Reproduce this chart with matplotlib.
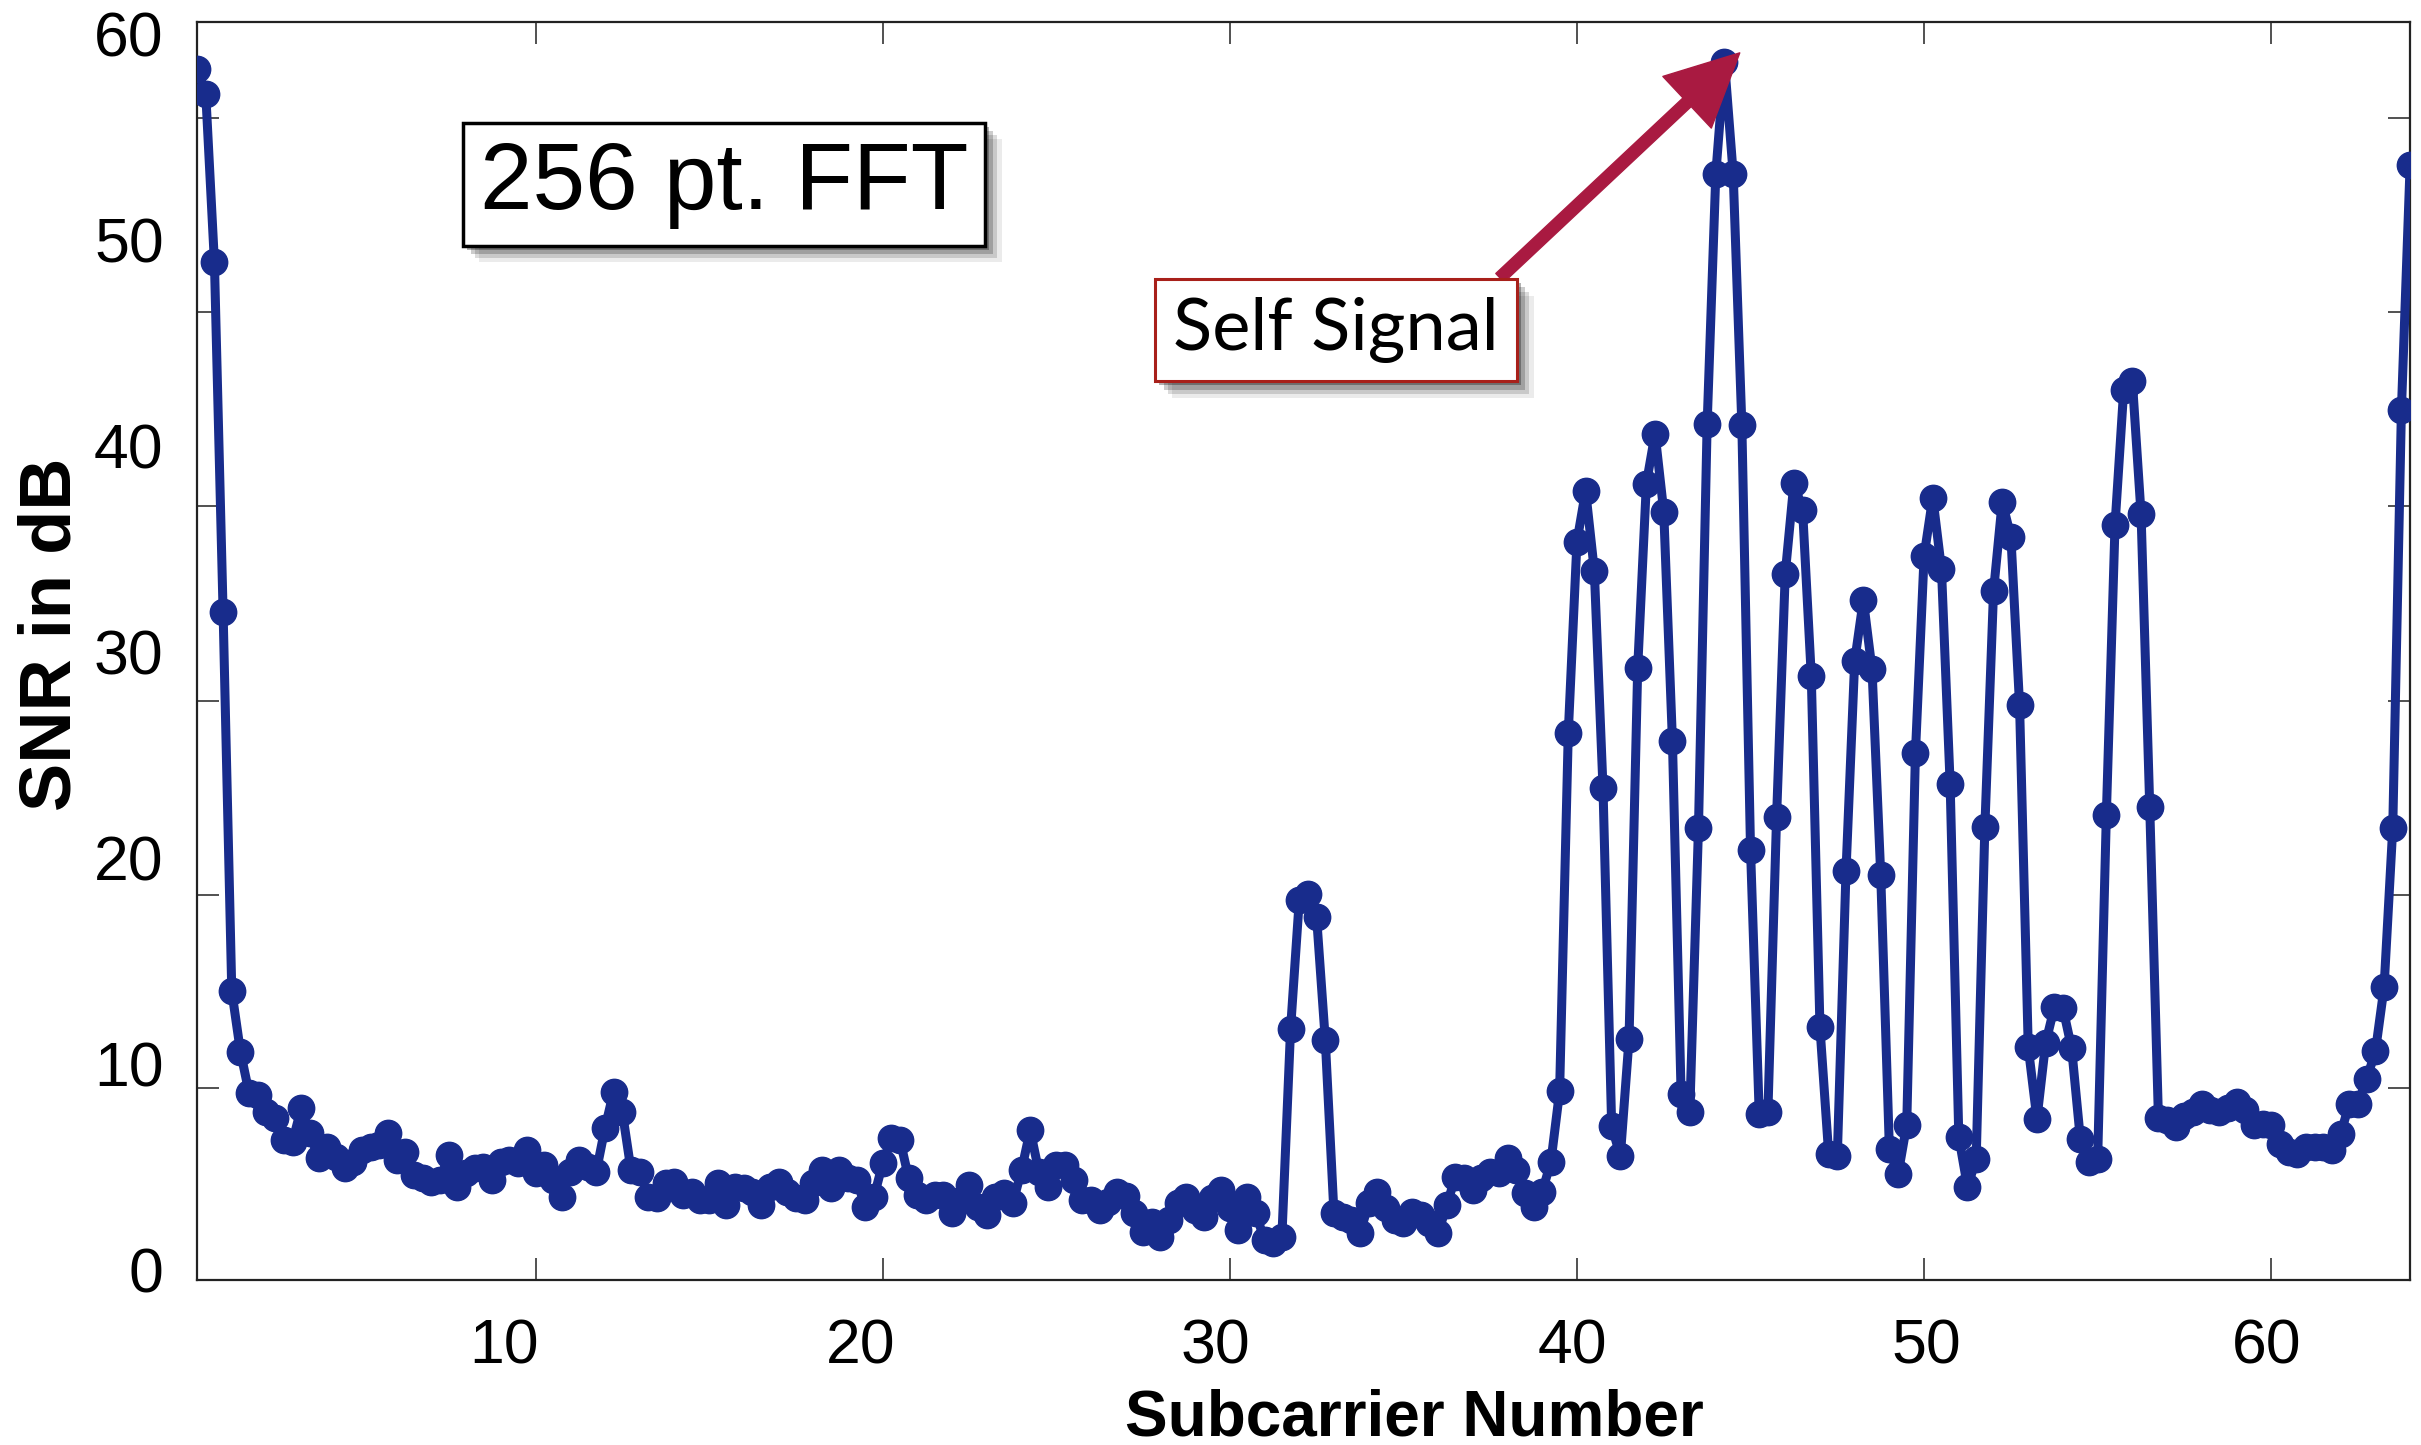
import numpy as np
import matplotlib
matplotlib.use("Agg")
import matplotlib.pyplot as plt
import matplotlib.patheffects as pe

# 256 subcarriers, plotted in steps of a quarter
n_points = 256
subcarrier = np.arange(1, n_points + 1) / 4.0

# SNR (dB), one value per subcarrier
snr_db = [
    58.3, 57.1, 48.9, 31.9, 13.5,
    10.56, 8.54, 8.45, 7.64, 7.32, 6.27, 6.19, 7.81, 6.59, 5.38,
    5.94, 5.46, 4.89, 5.21, 5.78, 5.94, 6.03, 6.59, 5.30, 5.70,
    4.57, 4.41, 4.24, 4.32, 5.54, 4.00, 4.65, 4.89, 4.97, 4.32,
    5.21, 5.30, 5.13, 5.78, 4.65, 5.05, 4.32, 3.51, 4.73, 5.30,
    4.97, 4.73, 6.84, 8.62, 7.64, 4.81, 4.73, 3.51, 3.43, 4.16,
    4.24, 3.60, 3.76, 3.35, 3.35, 4.16, 3.11, 4.00, 3.92, 3.76,
    3.11, 4.00, 4.24, 3.76, 3.43, 3.35, 4.16, 4.81, 3.92, 4.81,
    4.41, 4.32, 3.03, 3.51, 5.13, 6.35, 6.27, 4.41, 3.60, 3.35,
    3.60, 3.60, 2.70, 3.35, 4.08, 3.03, 2.62, 3.51, 3.68, 3.19,
    4.81, 6.75, 4.73, 4.00, 5.05, 5.05, 4.32, 3.35, 3.35, 2.87,
    3.27, 3.76, 3.56, 2.70, 1.81,
    2.30, 1.57, 2.38, 3.19, 3.51, 2.87, 2.54, 3.43, 3.84, 2.95,
    1.90, 3.51, 2.70, 1.41, 1.25, 1.57,
    11.66, 17.91, 18.23, 17.10, 11.13,
    2.70, 2.54, 2.38, 1.73, 3.19, 3.76, 2.95, 2.38, 2.22, 2.79,
    2.62, 2.22, 1.73, 3.11, 4.49, 4.41, 3.84, 4.41, 4.73, 4.65,
    5.38, 4.81, 3.68, 3.03, 3.76, 5.21,
    8.63, 26.06, 35.34, 37.80, 33.93, 23.36, 6.94, 5.49, 11.17, 29.21,
    38.16, 40.58, 36.79, 25.66, 8.51, 7.62, 21.42, 41.03, 53.21, 58.65,
    53.21, 40.99, 20.37, 7.54, 7.62, 21.94, 33.77, 38.20, 36.87, 28.80,
    11.74, 5.61, 5.49, 19.32, 29.53, 32.51, 29.13, 19.16, 5.81, 4.60,
    7.02, 25.05, 34.65, 37.48, 34.01, 23.56, 6.41, 4.00, 5.33, 21.46,
    32.92, 37.27, 35.58, 27.39, 10.77, 7.30, 10.97, 12.71, 12.67, 10.73,
    6.33, 5.20, 5.37, 22.07, 36.15, 42.72, 43.12, 36.67, 22.43, 7.34,
    7.22, 6.90, 7.42, 7.62, 8.03, 7.71, 7.62, 7.83, 8.11, 7.71,
    6.98, 7.06, 6.98, 6.09, 5.69, 5.61, 5.93, 5.93, 5.93, 5.77,
    6.57, 8.03, 8.03, 9.24, 10.57, 13.68, 21.42, 41.75, 53.61,
]

x_labels = ["10", "20", "30", "40", "50", "60"]
y_labels = ["0", "10", "20", "30", "40", "50", "60"]
# in the original the tick labels do not sit exactly on the tick marks,
# so labels and marks are placed separately
x_label_pos = [9.08, 19.36, 29.58, 39.86, 50.07, 59.86]
x_tick_marks = [10, 20, 30, 40, 50, 60]
y_label_pos = [0, 10, 20, 30, 40, 50, 60]
y_tick_marks = [8.79, 18.19, 27.58, 37.06, 46.47, 55.91]

peak_x, peak_y = 44.69, 59.08      # arrow tip
label_x, label_y = 37.78, 48.15    # arrow tail (box corner)

line_color = "#182C8C"
arrow_color = "#A91A41"

plt.rcParams["font.family"] = ["Liberation Sans", "DejaVu Sans"]

fig = plt.figure(figsize=(24.21, 14.45), dpi=100)
ax = fig.add_axes([0.0814, 0.1142, 0.9141, 0.8706])

ax.plot(subcarrier, snr_db, color=line_color, lw=6.5, marker="o",
        markersize=19, markerfacecolor=line_color, markeredgecolor=line_color,
        zorder=3)

ax.set_xlim(0.25, 64)
ax.set_ylim(-0.53, 60.58)

ax.set_xticks(x_label_pos)
ax.set_xticklabels(x_labels)
ax.set_xticks(x_tick_marks, minor=True)
ax.set_yticks(y_label_pos)
ax.set_yticklabels(y_labels)
ax.set_yticks(y_tick_marks, minor=True)

ax.tick_params(axis="both", which="major", length=0, labelsize=45,
               labelcolor="black")
ax.tick_params(axis="x", which="major", pad=27)
ax.tick_params(axis="y", which="major", pad=24)
ax.tick_params(axis="both", which="minor", direction="in", length=16,
               width=1.2, top=True, right=True, colors="#333333")

for s in ax.spines.values():
    s.set_linewidth(1.6)
    s.set_color("#222222")

ax.set_xlabel("Subcarrier Number", fontsize=46, fontweight="bold",
              va="baseline")
ax.xaxis.set_label_coords(0.55, -0.124)
ax.set_ylabel("SNR in dB", fontsize=52, fontweight="bold", va="center")
ax.yaxis.set_label_coords(-0.066, 0.513)

# soft drop shadow built from a few offset copies
shadow = [
    pe.SimplePatchShadow(offset=(12, -12), shadow_rgbFace="#000000", alpha=0.08),
    pe.SimplePatchShadow(offset=(9, -9), shadow_rgbFace="#000000", alpha=0.14),
    pe.SimplePatchShadow(offset=(6, -6), shadow_rgbFace="#000000", alpha=0.2),
    pe.SimplePatchShadow(offset=(3, -3), shadow_rgbFace="#000000", alpha=0.3),
    pe.Normal(),
]

# FFT size box
fft = ax.text(0.238, 0.871, "256 pt. FFT", transform=ax.transAxes,
              fontsize=68, ha="center", va="center", zorder=5,
              bbox=dict(boxstyle="square,pad=0.18", facecolor="white",
                        edgecolor="black", linewidth=2.5))
fft.get_bbox_patch().set_path_effects(shadow)

# arrow to the self-signal peak
ax.annotate("", xy=(peak_x, peak_y), xytext=(label_x, label_y),
            arrowprops=dict(facecolor=arrow_color, edgecolor=arrow_color,
                            width=8.6, headwidth=51, headlength=52, shrink=0),
            zorder=4)

ss = ax.text(0.5147, 0.755, "Self Signal", transform=ax.transAxes,
             fontsize=52, family=["Lato", "DejaVu Sans"], ha="center",
             va="center", zorder=5,
             bbox=dict(boxstyle="square,pad=0.25", facecolor="white",
                       edgecolor="#A8201A", linewidth=2.2))
ss.get_bbox_patch().set_path_effects(shadow)

fig.savefig("out.png", dpi=100)
